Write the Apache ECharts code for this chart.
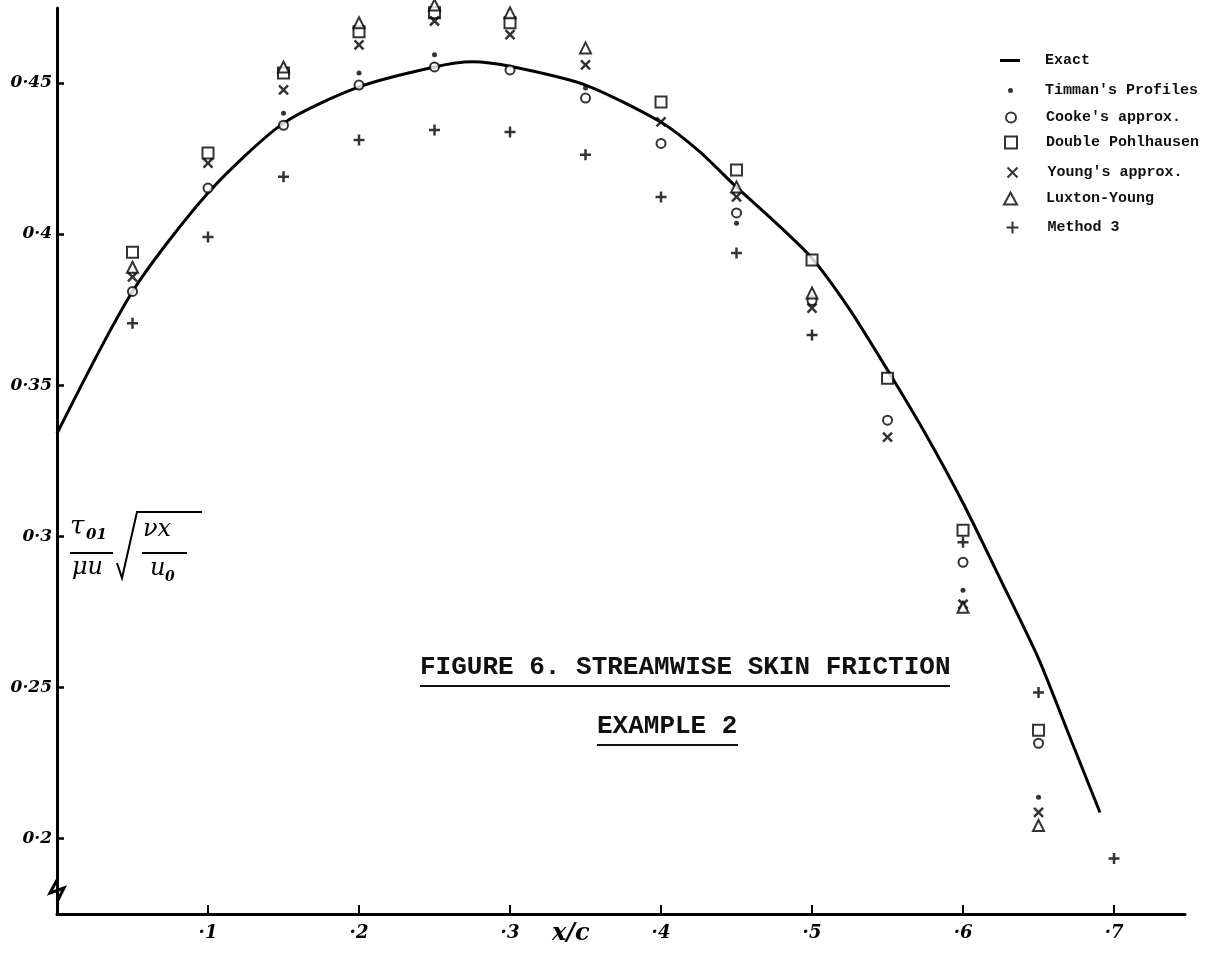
<!DOCTYPE html>
<html>
<head>
<meta charset="utf-8">
<script src="https://cdn.jsdelivr.net/npm/echarts@6/dist/echarts.min.js"></script>
<style>html,body{margin:0;padding:0;background:#fff;}#c{width:1213px;height:957px;}</style>
</head>
<body>
<div id="c"></div>
<script>
// ---- data ----
const exactX = [0, 0.05, 0.1, 0.15, 0.2, 0.25, 0.275, 0.3, 0.35, 0.4, 0.425, 0.45, 0.475, 0.5, 0.525, 0.55, 0.575, 0.6, 0.625, 0.65, 0.67, 0.6907];
const exactY = [0.334, 0.381, 0.4136, 0.4367, 0.4487, 0.4553, 0.457, 0.4555, 0.4493, 0.437, 0.4275, 0.4155, 0.4042, 0.392, 0.375, 0.355, 0.334, 0.311, 0.2855, 0.2595, 0.2345, 0.2086];

const timman = [[0.15, 0.440], [0.2, 0.4533], [0.25, 0.4593], [0.35, 0.4483], [0.45, 0.4036], [0.6, 0.2821], [0.65, 0.2136]];
const cooke = [[0.05, 0.381], [0.1, 0.4152], [0.15, 0.436], [0.2, 0.4493], [0.25, 0.4553], [0.3, 0.4543], [0.35, 0.445], [0.4, 0.430], [0.45, 0.407], [0.5, 0.378], [0.55, 0.3384], [0.6, 0.2914], [0.65, 0.2315]];
const pohlhausen = [[0.05, 0.394], [0.1, 0.4268], [0.15, 0.4533], [0.2, 0.4669], [0.25, 0.4732], [0.3, 0.4699], [0.4, 0.4437], [0.45, 0.4212], [0.5, 0.3914], [0.55, 0.3523], [0.6, 0.302], [0.65, 0.2358]];
const young = [[0.05, 0.3858], [0.1, 0.4235], [0.15, 0.4477], [0.2, 0.4626], [0.25, 0.4705], [0.3, 0.466], [0.35, 0.456], [0.4, 0.4371], [0.45, 0.4123], [0.5, 0.3755], [0.55, 0.3328], [0.6, 0.2775], [0.65, 0.2086]];
const luxton = [[0.05, 0.389], [0.15, 0.4553], [0.2, 0.4699], [0.25, 0.4758], [0.3, 0.4732], [0.35, 0.4616], [0.45, 0.4156], [0.5, 0.3805], [0.6, 0.2765], [0.65, 0.2043]];
const method3 = [[0.05, 0.3705], [0.1, 0.399], [0.15, 0.419], [0.2, 0.4311], [0.25, 0.4344], [0.3, 0.4338], [0.35, 0.4262], [0.4, 0.4123], [0.45, 0.3937], [0.5, 0.3666], [0.6, 0.298], [0.65, 0.2483], [0.7, 0.1934]];

const yTickValues = [0.2, 0.25, 0.3, 0.35, 0.4, 0.45];
const yTickLabels = ['0·2', '0·25', '0·3', '0·35', '0·4', '0·45'];
const xTickValues = [0.1, 0.2, 0.3, 0.4, 0.5, 0.6, 0.7];
const xTickLabels = ['·1', '·2', '·3', '·4', '·5', '·6', '·7'];
const seriesNames = ['Exact', "Timman's Profiles", "Cooke's approx.", 'Double Pohlhausen', "Young's approx.", 'Luxton-Young', 'Method 3'];
const titleLine1 = 'FIGURE 6. STREAMWISE SKIN FRICTION';
const titleLine2 = 'EXAMPLE 2';

// ---- chart ----
const chart = echarts.init(document.getElementById('c'), null, {renderer: 'canvas'});
const handFont = 'DejaVu Serif';
const typeFont = 'Liberation Mono';

function labelFor(values, labels) {
  return function (v) {
    for (let i = 0; i < values.length; i++) if (Math.abs(v - values[i]) < 1e-6) return labels[i];
    return '';
  };
}
function scatter(name, data, symbol, size, style) {
  return {
    name: name, type: 'scatter', data: data, symbol: symbol, symbolSize: size,
    clip: false, itemStyle: style, z: 3
  };
}
const crossPath = 'path://M0,0L10,10M10,0L0,10';
const plusPath = 'path://M5,0L5,10M0,5L10,5';

// one legend block per entry so each icon keeps its own size
const legendLayout = [
  // [centerY, iconLeft, iconW, iconH, icon]
  [62, 1000, 20, 3, 'rect'],
  [92, 1008, 5, 5, null],
  [119, 1005, 10, 10, null],
  [144, 1004, 12, 12, null],
  [174, 1005, 10, 10, null],
  [200, 1003, 13, 12, null],
  [228, 1004, 12, 12, null]
];
const legends = legendLayout.map(function (l, i) {
  const item = l[4] ? {name: seriesNames[i], icon: l[4]} : {name: seriesNames[i]};
  return {
    orient: 'vertical', left: l[1], top: l[0] - 9, itemWidth: l[2], itemHeight: l[3], padding: 0,
    data: [item],
    textStyle: {fontFamily: typeFont, fontSize: 15, fontWeight: 'bold', color: '#111',
      padding: [0, 0, 0, Math.max(0, 1046 - (l[1] + l[2] + 5) - 1)]}
  };
});

const option = {
  backgroundColor: '#fff',
  animation: false,
  grid: {left: 57, right: 28, top: 8, bottom: 43, containLabel: false, outerBoundsMode: 'none'},
  xAxis: {
    type: 'value', min: 0, max: 0.747,
    axisLine: {show: true, lineStyle: {color: '#000', width: 3}},
    axisTick: {show: true, inside: true, length: 9, lineStyle: {color: '#000', width: 2}, customValues: xTickValues},
    axisLabel: {
      color: '#000', fontFamily: handFont, fontStyle: 'italic', fontWeight: 'bold', fontSize: 18, margin: 10,
      customValues: xTickValues, formatter: labelFor(xTickValues, xTickLabels)
    },
    splitLine: {show: false}
  },
  yAxis: {
    type: 'value', min: 0.175, max: 0.4748,
    axisLine: {show: true, lineStyle: {color: '#000', width: 3}},
    axisTick: {show: true, inside: true, length: 7, lineStyle: {color: '#000', width: 2.5}, customValues: yTickValues},
    axisLabel: {
      color: '#000', fontFamily: handFont, fontStyle: 'italic', fontWeight: 'bold', fontSize: 17, margin: 5,
      customValues: yTickValues, formatter: labelFor(yTickValues, yTickLabels)
    },
    splitLine: {show: false}
  },
  legend: legends,
  series: [
    {
      name: seriesNames[0], type: 'line', smooth: 0.25, symbol: 'none',
      data: exactX.map(function (x, i) { return [x, exactY[i]]; }),
      lineStyle: {color: '#000', width: 3}, itemStyle: {color: '#000'}, z: 2
    },
    scatter(seriesNames[1], timman, 'circle', 5, {color: '#000'}),
    scatter(seriesNames[2], cooke, 'emptyCircle', 9, {color: '#000', borderColor: '#000', borderWidth: 2}),
    scatter(seriesNames[3], pohlhausen, 'emptyRect', 11, {color: '#000', borderColor: '#000', borderWidth: 2.5}),
    scatter(seriesNames[4], young, crossPath, 9, {color: 'none', borderColor: '#000', borderWidth: 2.5}),
    scatter(seriesNames[5], luxton, 'emptyTriangle', 11, {color: '#000', borderColor: '#000', borderWidth: 2.5}),
    scatter(seriesNames[6], method3, plusPath, 11, {color: 'none', borderColor: '#000', borderWidth: 2.5})
  ],
  graphic: [
    // title
    {type: 'text', left: 420, top: 654, style: {text: titleLine1, font: 'bold 26px ' + typeFont, fill: '#111'}},
    {type: 'line', shape: {x1: 420, y1: 686, x2: 950, y2: 686}, style: {stroke: '#111', lineWidth: 2}},
    {type: 'text', left: 597, top: 713, style: {text: titleLine2, font: 'bold 26px ' + typeFont, fill: '#111'}},
    {type: 'line', shape: {x1: 597, y1: 745, x2: 738, y2: 745}, style: {stroke: '#111', lineWidth: 2}},
    // y-axis name: tau_01 / (mu u) * sqrt(nu x / u0)
    {type: 'text', left: 70, top: 514, style: {text: 'τ', font: 'italic 26px ' + handFont, fill: '#000'}},
    {type: 'text', left: 86, top: 528, style: {text: '01', font: 'italic bold 15px ' + handFont, fill: '#000'}},
    {type: 'line', shape: {x1: 70, y1: 553, x2: 113, y2: 553}, style: {stroke: '#000', lineWidth: 2}},
    {type: 'text', left: 72, top: 556, style: {text: 'μu', font: 'italic 24px ' + handFont, fill: '#000'}},
    {type: 'polyline', shape: {points: [[117, 563], [122, 578], [137, 512], [202, 512]]}, style: {stroke: '#000', lineWidth: 2, fill: null}},
    {type: 'text', left: 143, top: 518, style: {text: 'νx', font: 'italic 24px ' + handFont, fill: '#000'}},
    {type: 'line', shape: {x1: 142, y1: 553, x2: 187, y2: 553}, style: {stroke: '#000', lineWidth: 2}},
    {type: 'text', left: 150, top: 557, style: {text: 'u', font: 'italic 24px ' + handFont, fill: '#000'}},
    {type: 'text', left: 165, top: 570, style: {text: '0', font: 'italic bold 14px ' + handFont, fill: '#000'}},
    // x-axis name
    {type: 'text', left: 552, top: 922, style: {text: 'x/c', font: 'italic bold 24px ' + handFont, fill: '#000'}},
    // axis break mark
    {type: 'polyline', shape: {points: [[57, 880], [50, 893], [64, 888], [57, 902]]}, style: {stroke: '#000', lineWidth: 3, fill: null}}
  ]
};
chart.setOption(option);
</script>
</body>
</html>
